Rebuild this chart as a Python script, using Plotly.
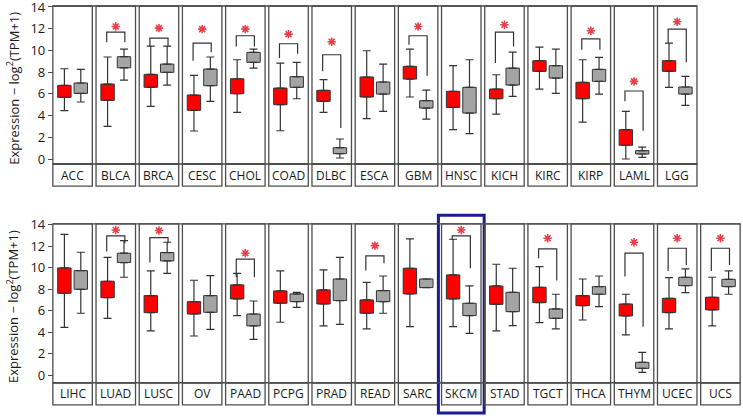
import plotly.graph_objects as go

# GEPIA-style expression boxes, tumor (red) vs normal (grey), 31 cancer types
cancers = ["ACC", "BLCA", "BRCA", "CESC", "CHOL", "COAD", "DLBC", "ESCA",
           "GBM", "HNSC", "KICH", "KIRC", "KIRP", "LAML", "LGG",
           "LIHC", "LUAD", "LUSC", "OV", "PAAD", "PCPG", "PRAD", "READ",
           "SARC", "SKCM", "STAD", "TGCT", "THCA", "THYM", "UCEC", "UCS"]
row_sizes = [15, 16]

tumor_low = [4.45, 3.0, 4.85, 2.58, 4.29, 2.6, 4.29, 3.71, 5.71, 2.7, 4.14, 6.44, 3.4, 0.0, 6.6,
             4.44, 5.28, 4.1, 3.63, 5.53, 4.91, 4.57, 4.29, 4.5, 4.5, 4.1, 4.88, 5.12, 3.73, 4.29, 4.57]
tumor_q1 = [5.67, 5.4, 6.6, 4.48, 6.01, 5.0, 5.31, 5.71, 7.36, 4.75, 5.55, 8.07, 5.55, 1.26, 8.07,
            7.61, 7.2, 5.81, 5.68, 7.08, 6.68, 6.61, 5.75, 7.55, 7.08, 6.58, 6.74, 6.46, 5.5, 5.81, 6.06]
tumor_q3 = [6.78, 6.9, 7.79, 5.89, 7.39, 6.53, 6.32, 7.55, 8.53, 6.23, 6.44, 9.05, 7.06, 2.7, 9.05,
            9.97, 8.73, 7.39, 6.83, 8.39, 7.83, 7.92, 6.99, 9.94, 9.32, 8.29, 8.17, 7.39, 6.61, 7.14, 7.24]
tumor_high = [8.31, 9.39, 10.4, 7.7, 9.14, 8.83, 7.3, 9.97, 10.12, 8.59, 7.76, 10.31, 9.14, 4.39, 10.67,
              13.1, 10.96, 9.69, 8.82, 9.47, 9.69, 9.78, 8.63, 12.67, 12.64, 10.31, 10.09, 8.94, 7.52, 9.07, 9.1]

normal_low = [5.25, 7.27, 6.81, 5.31, 8.37, 5.55, 0.09, 4.39, 3.68, 2.33, 5.77, 6.04, 5.98, 0.15, 4.94,
              5.75, 9.1, 9.47, 4.25, 3.32, 6.3, 4.72, 5.75, 8.14, 3.88, 4.6, 4.29, 6.37, 0.25, 7.67, 7.52]
normal_q1 = [6.04, 8.4, 7.98, 6.75, 8.9, 6.6, 0.49, 5.98, 4.69, 4.23, 6.81, 7.45, 7.15, 0.46, 5.98,
             7.98, 10.47, 10.62, 5.84, 4.57, 6.83, 6.93, 6.83, 8.14, 5.53, 5.9, 5.28, 7.52, 0.62, 8.32, 8.23]
normal_q3 = [7.0, 9.42, 8.74, 8.28, 9.82, 7.58, 1.04, 7.09, 5.37, 6.6, 8.37, 8.59, 8.25, 0.77, 6.63,
             9.72, 11.34, 11.4, 7.39, 5.68, 7.55, 8.94, 7.86, 8.94, 6.68, 7.7, 6.15, 8.23, 1.18, 9.1, 8.91]
normal_high = [8.25, 10.12, 10.4, 9.39, 10.12, 8.9, 1.84, 8.74, 6.35, 9.14, 9.85, 10.12, 9.36, 1.1, 7.61,
               11.43, 12.52, 12.36, 9.25, 6.89, 7.7, 10.96, 9.22, 8.94, 8.29, 9.94, 7.52, 9.22, 2.11, 9.88, 9.69]

# significance brackets (None = not significant)
leg_left = [None, 10.74, 10.37, 9.05, 10.37, 9.29, 8.07, None, 10.52, None, 8.83, None, 10.06, 5.31, 10.67,
            None, 11.49, 10.47, None, 9.1, None, None, 9.72, None, 12.58, None, 10.87, None, 9.16, 9.69, 9.69]
leg_right = [None, 10.74, 10.37, 9.82, 10.37, 9.69, 2.85, None, 7.67, None, 10.37, None, 10.06, 2.6, 8.9,
             None, 12.27, 12.27, None, 9.1, None, None, 10.4, None, 9.94, None, 8.79, None, 4.5, 10.25, 10.25]
bracket_top = [None, 11.69, 11.13, 10.67, 11.35, 10.61, 9.6, None, 11.35, None, 11.69, None, 11.07, 6.26, 11.96,
               None, 12.95, 12.8, None, 10.78, None, None, 11.09, None, 12.95, None, 11.74, None, 11.34, 11.8, 11.8]
star_y = [None, 12.2, 12.05, 11.96, 11.96, 11.5, 10.8, None, 12.2, None, 12.36, None, 11.81, 7.15, 12.64,
          None, 13.5, 13.45, None, 11.34, None, None, 12.05, None, 13.5, None, 12.73, None, 12.36, 12.73, 12.73]

y_ticks = [0, 2, 4, 6, 8, 10, 12, 14]
highlight = "SKCM"

RED = "#ff0000"
GREY = "#a4a4a4"
DARK = "#333333"
FRAME = "#4d4d4d"
STAR = "#e8404a"
FONT = "Open Sans"

H = 417
ML, MR = 51, 1
PW = 743 - ML - MR
x_range = [-0.5, 15.5]
half = 0.457

# per row: pixel of y=0, pixels per unit, frame top, plot bottom, strip bottom
rows_geo = [dict(zero=159, unit=10.86, top=14.09, base=-0.46, strip=-2.49),
            dict(zero=375, unit=10.74, top=14.07, base=-0.72, strip=-2.79)]
pad = 0.2


def domain_of(g):
    top_px = g["zero"] - (g["top"] + pad) * g["unit"]
    bot_px = g["zero"] - (g["strip"] - pad) * g["unit"]
    return [1 - bot_px / H, 1 - top_px / H]


def ypaper(g, v):
    return 1 - (g["zero"] - v * g["unit"]) / H


def xpaper(v):
    return (v - x_range[0]) / (x_range[1] - x_range[0])


fig = go.Figure()
shapes = []
annotations = []
start = 0
for r, size in enumerate(row_sizes):
    g = rows_geo[r]
    xa, ya = ("x", "y") if r == 0 else ("x2", "y2")
    sl = slice(start, start + size)
    pos = list(range(size))

    for dx, low, q1, q3, high, fill in (
            (-0.19, tumor_low, tumor_q1, tumor_q3, tumor_high, RED),
            (0.19, normal_low, normal_q1, normal_q3, normal_high, GREY)):
        xs = [p + dx for p in pos]
        lo, a, b, hi = low[sl], q1[sl], q3[sl], high[sl]
        fig.add_trace(go.Bar(x=xs, base=a, y=[v - u for u, v in zip(a, b)], width=0.31,
                             marker=dict(color=fill, line=dict(color=DARK, width=1)),
                             xaxis=xa, yaxis=ya, showlegend=False, hoverinfo="skip"))
        fig.add_trace(go.Scatter(x=xs, y=b, mode="markers", marker=dict(size=1, color=DARK),
                                 error_y=dict(type="data", symmetric=False,
                                              array=[h - v for v, h in zip(b, hi)],
                                              arrayminus=[0] * size, width=4, thickness=1.2, color=DARK),
                                 xaxis=xa, yaxis=ya, showlegend=False, hoverinfo="skip"))
        fig.add_trace(go.Scatter(x=xs, y=a, mode="markers", marker=dict(size=1, color=DARK),
                                 error_y=dict(type="data", symmetric=False, array=[0] * size,
                                              arrayminus=[u - l for u, l in zip(a, lo)],
                                              width=4, thickness=1.2, color=DARK),
                                 xaxis=xa, yaxis=ya, showlegend=False, hoverinfo="skip"))

    # brackets and stars
    bx, by, sx, sy = [], [], [], []
    for p, l, rr, t, s in zip(pos, leg_left[sl], leg_right[sl], bracket_top[sl], star_y[sl]):
        if t is None:
            continue
        bx += [p - 0.21, p - 0.21, p + 0.21, p + 0.21, None]
        by += [l, t, t, rr, None]
        sx.append(p)
        sy.append(s)
    fig.add_trace(go.Scatter(x=bx, y=by, mode="lines", line=dict(color=DARK, width=1.2),
                             xaxis=xa, yaxis=ya, showlegend=False, hoverinfo="skip"))
    fig.add_trace(go.Scatter(x=sx, y=sy, mode="markers",
                             marker=dict(symbol="asterisk-open", size=7, color=STAR,
                                         line=dict(color=STAR, width=1.6)),
                             xaxis=xa, yaxis=ya, showlegend=False, hoverinfo="skip"))

    # panel frames, strips, labels
    for p, name in zip(pos, cancers[sl]):
        shapes.append(dict(type="rect", xref=xa, yref=ya, x0=p - half, x1=p + half,
                           y0=g["base"], y1=g["top"], line=dict(color=FRAME, width=1.3)))
        shapes.append(dict(type="rect", xref=xa, yref=ya, x0=p - half, x1=p + half,
                           y0=g["strip"], y1=g["base"], line=dict(color=FRAME, width=1.3)))
        annotations.append(dict(text=name, x=p, y=(g["base"] + g["strip"]) / 2, xref=xa, yref=ya,
                                showarrow=False, font=dict(family=FONT, size=12, color="#1a1a1a")))
        if name == highlight:
            shapes.append(dict(type="rect", xref="paper", yref="paper",
                               x0=xpaper(p - 0.53), x1=xpaper(p + 0.53),
                               y0=ypaper(g, g["strip"] - 0.75), y1=ypaper(g, g["top"] + 0.8),
                               line=dict(color="#1c1c96", width=3)))
    for yv in (g["top"], g["base"]):
        shapes.append(dict(type="line", xref=xa, yref=ya, x0=-half, x1=size - 1 + half,
                           y0=yv, y1=yv, line=dict(color=FRAME, width=1.3)))

    annotations.append(dict(text="Expression \u2212 log<sup>2</sup>(TPM+1)", textangle=-90,
                            xref="paper", yref="paper", x=(12.5 - ML) / PW,
                            y=ypaper(g, (g["top"] + g["base"]) / 2 - 0.3),
                            xanchor="center", yanchor="middle",
                            showarrow=False, font=dict(family=FONT, size=13, color="#1a1a1a")))
    start += size

axis_y = dict(tickvals=y_ticks, ticks="outside", ticklen=5, tickwidth=1.2, tickcolor=FRAME,
              showline=False, showgrid=False, zeroline=False, anchor="free",
              ticklabeloverflow="allow",
              position=xpaper(-half), tickfont=dict(family=FONT, size=13, color="#1a1a1a"))
axis_x = dict(range=x_range, visible=False, showgrid=False, zeroline=False)

fig.update_layout(
    template="none",
    width=743, height=H,
    margin=dict(l=ML, r=MR, t=0, b=0),
    paper_bgcolor="white", plot_bgcolor="white",
    barmode="overlay", showlegend=False,
    xaxis=dict(axis_x, anchor="y"),
    xaxis2=dict(axis_x, anchor="y2"),
    yaxis=dict(axis_y, domain=domain_of(rows_geo[0]),
               range=[rows_geo[0]["strip"] - pad, rows_geo[0]["top"] + pad]),
    yaxis2=dict(axis_y, domain=domain_of(rows_geo[1]),
                range=[rows_geo[1]["strip"] - pad, rows_geo[1]["top"] + pad]),
    shapes=shapes,
    annotations=annotations,
)

# the page body has a default 8px margin; remove it so the figure sits at the window corner
fig.write_html("out.html", config={"displayModeBar": False},
               post_script="document.body.style.margin='0';document.body.style.overflow='hidden';")
